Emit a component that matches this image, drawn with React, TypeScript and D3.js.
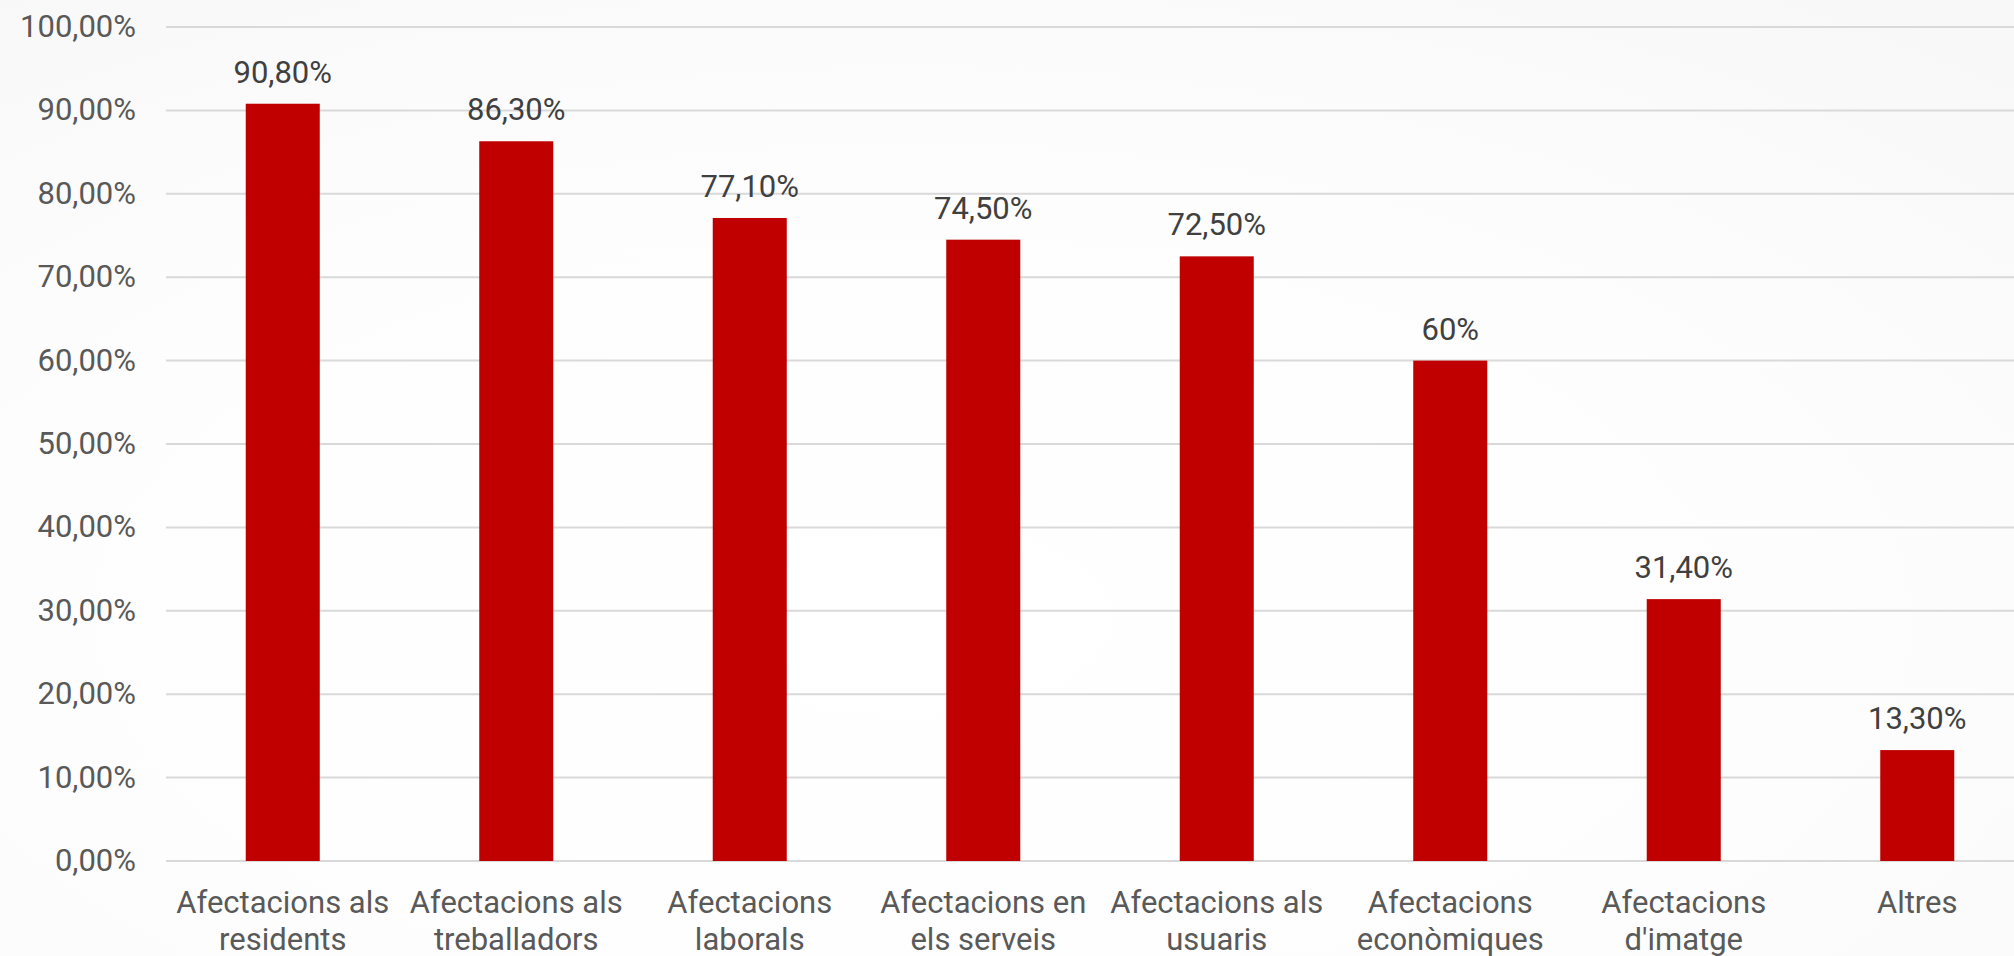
import * as d3 from "d3"

const categories = [
  "Afectacions als residents",
  "Afectacions als treballadors",
  "Afectacions laborals",
  "Afectacions en els serveis",
  "Afectacions als usuaris",
  "Afectacions econòmiques",
  "Afectacions d'imatge",
  "Altres",
]

// wrapped lines of each category label, as Excel broke them
const categoryLines = [
  ["Afectacions als", "residents"],
  ["Afectacions als", "treballadors"],
  ["Afectacions", "laborals"],
  ["Afectacions en", "els serveis"],
  ["Afectacions als", "usuaris"],
  ["Afectacions", "econòmiques"],
  ["Afectacions", "d'imatge"],
  ["Altres"],
]

const values = [90.8, 86.3, 77.1, 74.5, 72.5, 60, 31.4, 13.3]
const valueLabels = ["90,80%", "86,30%", "77,10%", "74,50%", "72,50%", "60%", "31,40%", "13,30%"]
const yTicks = [0, 10, 20, 30, 40, 50, 60, 70, 80, 90, 100]

const W = 2014
const H = 956
const font = "Roboto, 'Noto Sans', sans-serif"

export default function App() {
  const margin = { top: 27, left: 166, right: -20, bottom: 95 }

  const x = d3
    .scaleBand<string>()
    .domain(categories)
    .range([margin.left, W - margin.right])
    .paddingInner(0.683)
    .paddingOuter(0.3415)

  const y = d3
    .scaleLinear()
    .domain([0, 100])
    .range([H - margin.bottom, margin.top])

  const fmtTick = (d: number) => d.toFixed(2).replace(".", ",") + "%"

  return (
    <div style={{ position: "absolute", left: 0, top: 0 }}>
      <svg width={W} height={H} style={{ display: "block" }} fontFamily={font}>
        <defs>
          <radialGradient id="bg" cx="45%" cy="65%" r="80%">
            <stop offset="0%" stopColor="#ffffff" />
            <stop offset="60%" stopColor="#fdfdfd" />
            <stop offset="100%" stopColor="#f8f8f8" />
          </radialGradient>
        </defs>
        <rect x={0} y={0} width={W} height={H} fill="url(#bg)" />

        {/* grid */}
        {yTicks.map((t) => (
          <g key={t}>
            <line
              x1={margin.left}
              x2={W - margin.right}
              y1={y(t)}
              y2={y(t)}
              stroke="#d9d9d9"
              strokeWidth={2}
            />
            <text
              x={136}
              y={y(t)}
              dy={10}
              textAnchor="end"
              fontSize={31}
              fill="#595959"
            >
              {fmtTick(t)}
            </text>
          </g>
        ))}

        {/* bars */}
        {categories.map((c, i) => {
          const bx = x(c) || 0
          const cx = bx + x.bandwidth() / 2
          return (
            <g key={c}>
              <rect
                x={bx}
                y={y(values[i])}
                width={x.bandwidth()}
                height={y(0) - y(values[i])}
                fill="#c00000"
              />
              <text
                x={cx}
                y={y(values[i]) - 21}
                textAnchor="middle"
                fontSize={31}
                fill="#404040"
              >
                {valueLabels[i]}
              </text>
              {categoryLines[i].map((line, j) => (
                <text
                  key={j}
                  x={cx}
                  y={913 + j * 37}
                  textAnchor="middle"
                  fontSize={31}
                  fill="#595959"
                >
                  {line}
                </text>
              ))}
            </g>
          )
        })}
      </svg>
    </div>
  )
}
